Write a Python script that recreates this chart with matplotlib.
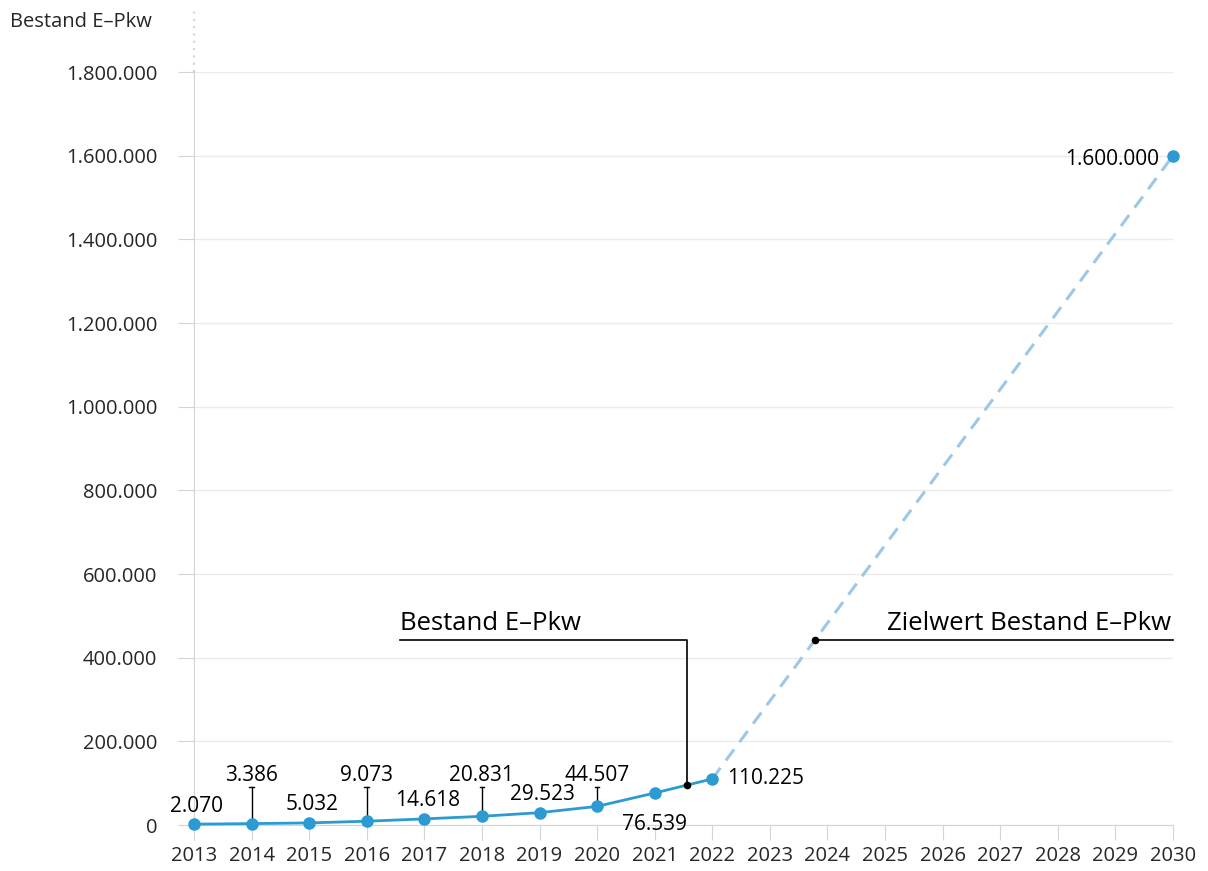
import matplotlib
matplotlib.use("Agg")
import matplotlib.pyplot as plt
from matplotlib.ticker import FuncFormatter, MultipleLocator

plt.rcParams['font.family'] = ['Open Sans', 'DejaVu Sans']

years = [2013, 2014, 2015, 2016, 2017, 2018, 2019, 2020, 2021, 2022]
bestand = [2070, 3386, 5032, 9073, 14618, 20831, 29523, 44507, 76539, 110225]
ziel_years = [2022, 2030]
ziel_values = [110225, 1600000]
all_years = list(range(2013, 2031))

blue = '#2b9bd1'
light_blue = '#9cc8e8'
grid_grey = '#ebebeb'
axis_grey = '#d4d4d4'


def fmt(v, pos=None):
    return '{:,.0f}'.format(v).replace(',', '.')


fig = plt.figure(figsize=(12.08, 8.71), dpi=100)
ax = fig.add_axes([0.1606, 0.0528, 0.971 - 0.1606, 0.9173 - 0.0528])

ax.set_xlim(2013, 2030)
ax.set_ylim(0, 1800000)

# grid + axes styling
ax.yaxis.set_major_locator(MultipleLocator(200000))
ax.yaxis.set_major_formatter(FuncFormatter(fmt))
ax.set_xticks(all_years)
ax.grid(axis='y', color=grid_grey, linewidth=1)
ax.set_axisbelow(True)
for s in ['top', 'right']:
    ax.spines[s].set_visible(False)
ax.spines['left'].set_color(axis_grey)
ax.spines['bottom'].set_color(axis_grey)
ax.tick_params(axis='y', length=11.5, color=axis_grey, labelsize=14.5, labelcolor='#262626', pad=15)
ax.tick_params(axis='x', length=11, color=axis_grey, labelsize=14.5, labelcolor='#262626', pad=4)

# dotted continuation of y-axis above top
ax.plot([2013, 2013], [1800000, 1950000], color=axis_grey, linestyle=(0, (1, 2.5)),
        linewidth=1.5, clip_on=False)

# target dashed line
ax.plot(ziel_years, ziel_values, color=light_blue, linewidth=2.2, linestyle=(0, (4.5, 3)),
        zorder=3)
ax.plot([ziel_years[-1]], [ziel_values[-1]], 'o', color=blue, markersize=8, clip_on=False,
        zorder=4)

# actual line
ax.plot(years, bestand, '-o', color=blue, linewidth=2, markersize=8, clip_on=False, zorder=5)

# data labels
high = [2014, 2016, 2018, 2020]
for yr, v in zip(years, bestand):
    if yr in high:
        ax.plot([yr, yr], [v + 8000, 92000], color='black', linewidth=1, zorder=2)
        ax.plot([yr - 0.04, yr + 0.04], [92000, 92000], color='black', linewidth=1, zorder=2)
        ax.text(yr, 93000, fmt(v), ha='center', va='bottom', fontsize=15)
    elif yr == 2021:
        ax.text(yr, 26000, fmt(v), ha='center', va='top', fontsize=15)
    elif yr == 2022:
        ax.text(yr + 0.26, v + 2000, fmt(v), ha='left', va='center', fontsize=15)
    else:
        ax.text(yr + 0.05, v + 18000, fmt(v), ha='center', va='bottom', fontsize=15)

ax.text(2029.75, ziel_values[-1] - 10000, fmt(ziel_values[-1]), ha='right', va='center',
        fontsize=15)

# series annotations
yl = 442000
xa = 2021.56
ya = bestand[8] + (xa - 2021) * (bestand[9] - bestand[8])
ax.plot([2016.58, xa, xa], [yl, yl, ya], color='black', linewidth=1.2, zorder=6)
ax.plot([xa], [ya], 'o', color='black', markersize=4.5, zorder=7)
ax.text(2016.58, yl + 10000, 'Bestand E\u2013Pkw', ha='left', va='bottom', fontsize=18.5)

xz = 2023.78
ax.plot([xz, 2030], [yl, yl], color='black', linewidth=1.2, zorder=6, clip_on=False)
ax.plot([xz], [yl], 'o', color='black', markersize=4.5, zorder=7)
ax.text(2029.97, yl + 10000, 'Zielwert Bestand E\u2013Pkw', ha='right', va='bottom', fontsize=18.5)

fig.text(10 / 1208, 1 - 22 / 871, 'Bestand E\u2013Pkw', ha='left', va='center', fontsize=14.5,
         color='#262626')

fig.savefig('out.png', dpi=100)
